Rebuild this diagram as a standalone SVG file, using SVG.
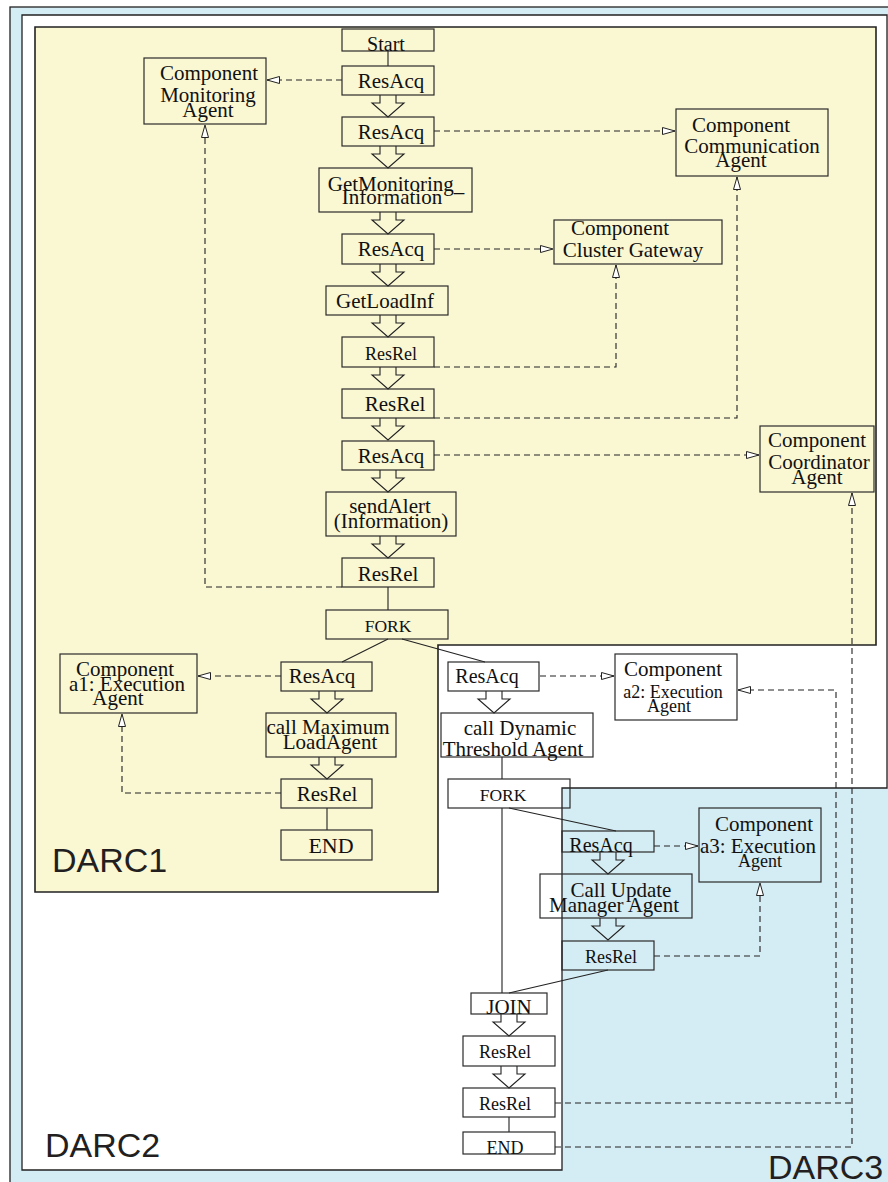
<svg xmlns="http://www.w3.org/2000/svg" width="888" height="1182" viewBox="0 0 888 1182">
<style>
.n{fill:none;stroke:#2a2a2a;stroke-width:1.2}
.t{font-family:"Liberation Serif","Times New Roman",serif;font-size:21px;fill:#111;text-anchor:middle}
.s{font-size:18px}
.f{font-size:17.5px}
.lbl{font-family:"Liberation Sans",Arial,sans-serif;font-size:34px;fill:#231f20}
.ln{fill:none;stroke:#222;stroke-width:1.1}
.d{fill:none;stroke:#222;stroke-width:1.1;stroke-dasharray:6 4}
.ba{fill:none;stroke:#222;stroke-width:1.1}
</style>
<defs>
<marker id="tri" markerUnits="userSpaceOnUse" markerWidth="14" markerHeight="10" refX="13" refY="4" orient="auto">
<path d="M0.5,0.5 L13,4 L0.5,7.5 z" fill="#fff" stroke="#222" stroke-width="1"/>
</marker>
<path id="blk" d="M-8,0 V8 H-16 L0,22 L16,8 H8 V0"/>
</defs>

<g id="frames">
<rect x="10" y="7" width="890" height="1190" fill="#d4ecf3" stroke="#222" stroke-width="1.3"/>
<polygon id="darc2" points="22,15 887,15 887,788 562,788 562,1170 22,1170" fill="#fff" stroke="#222" stroke-width="1.3"/>
<polygon id="darc1" points="35,27 876,27 876,645 438,645 438,892 35,892" fill="#faf7d3" stroke="#222" stroke-width="1.6"/>
<text class="lbl" x="52" y="872">DARC1</text>
<text class="lbl" x="45" y="1157">DARC2</text>
<text class="lbl" x="768" y="1179">DARC3</text>
</g>

<g id="connectors">
<path class="ln" d="M388,51 V66 M388,587 V610 M388,639 L342,662 M402,639 L485,662 M327,808 V830 M502,757 V779 M502,808 V993 M509,808 L616,831 M608,970 L509,993 M509,1117 V1132"/>
<g class="ba">
<use href="#blk" x="388" y="95"/><use href="#blk" x="388" y="146"/><use href="#blk" x="388" y="212"/>
<use href="#blk" x="388" y="264"/><use href="#blk" x="388" y="315"/><use href="#blk" x="388" y="367"/>
<use href="#blk" x="388" y="418"/><use href="#blk" x="388" y="470"/><use href="#blk" x="388" y="536"/>
<use href="#blk" x="327" y="691"/><use href="#blk" x="327" y="757"/><use href="#blk" x="494" y="691"/>
<use href="#blk" x="608" y="852"/><use href="#blk" x="608" y="918"/><use href="#blk" x="509" y="1014"/>
<use href="#blk" x="509" y="1066"/>
</g>
<path class="d" marker-end="url(#tri)" d="M342,80 H267"/>
<path class="d" marker-end="url(#tri)" d="M342,587 H205 V125"/>
<path class="d" marker-end="url(#tri)" d="M434,131 H675"/>
<path class="d" marker-end="url(#tri)" d="M434,249 H553"/>
<path class="d" marker-end="url(#tri)" d="M434,367 H616 V265"/>
<path class="d" marker-end="url(#tri)" d="M434,418 H737 V177"/>
<path class="d" marker-end="url(#tri)" d="M434,455 H759"/>
<path class="d" marker-end="url(#tri)" d="M555,1147 H852 V493"/>
<path class="d" marker-end="url(#tri)" d="M281,676 H198"/>
<path class="d" marker-end="url(#tri)" d="M281,793 H122 V714"/>
<path class="d" marker-end="url(#tri)" d="M540,676 H614"/>
<path class="d" d="M555,1103 H852"/>
<path class="d" marker-end="url(#tri)" d="M836,1098 V690 H738"/>
<path class="d" marker-end="url(#tri)" d="M654,846 H698"/>
<path class="d" marker-end="url(#tri)" d="M654,956 H760 V883"/>
</g>

<g id="start"><rect class="n" x="342" y="29" width="92" height="22"/><text class="t s" x="386" y="51" style="font-size:20px">Start</text></g>
<g id="resacq1"><rect class="n" x="342" y="66" width="92" height="29"/><text class="t" x="391" y="88">ResAcq</text></g>
<g id="resacq2"><rect class="n" x="342" y="117" width="92" height="29"/><text class="t" x="391" y="139">ResAcq</text></g>
<g id="getmon"><rect class="n" x="319" y="168" width="153" height="44"/><text class="t" x="396" y="191">GetMonitoring_</text><text class="t" x="392" y="204">Information</text></g>
<g id="resacq3"><rect class="n" x="342" y="234" width="92" height="30"/><text class="t" x="391" y="256">ResAcq</text></g>
<g id="getload"><rect class="n" x="326" y="286" width="122" height="29"/><text class="t" x="385" y="308">GetLoadInf</text></g>
<g id="resrel1"><rect class="n" x="342" y="337" width="92" height="30"/><text class="t s" x="391" y="360">ResRel</text></g>
<g id="resrel2"><rect class="n" x="342" y="389" width="92" height="29"/><text class="t" x="395" y="411">ResRel</text></g>
<g id="resacq4"><rect class="n" x="342" y="441" width="92" height="29"/><text class="t" x="391" y="463">ResAcq</text></g>
<g id="sendalert"><rect class="n" x="326" y="492" width="130" height="44"/><text class="t" x="390" y="513">sendAlert</text><text class="t" x="391" y="528">(Information)</text></g>
<g id="resrel3"><rect class="n" x="342" y="558" width="92" height="29"/><text class="t" x="388" y="581">ResRel</text></g>
<g id="fork1"><rect class="n" x="326" y="610" width="122" height="29"/><text class="t f" x="388" y="632">FORK</text></g>

<g id="resacq5"><rect class="n" x="281" y="662" width="91" height="29"/><text class="t" x="322" y="683">ResAcq</text></g>
<g id="callmax"><rect class="n" x="266" y="713" width="130" height="44"/><text class="t" x="328" y="734">call Maximum</text><text class="t" x="330" y="749">LoadAgent</text></g>
<g id="resrel4"><rect class="n" x="281" y="779" width="91" height="29"/><text class="t" x="327" y="801">ResRel</text></g>
<g id="end1"><rect class="n" x="281" y="830" width="91" height="30"/><text class="t" x="331" y="853" style="font-size:22px">END</text></g>

<g id="resacq6"><rect class="n" x="448" y="662" width="91" height="29"/><text class="t" x="487" y="683" style="font-size:20px">ResAcq</text></g>
<g id="calldyn"><rect class="n" x="441" y="713" width="152" height="44"/><text class="t" x="520" y="735">call Dynamic</text><text class="t" x="513" y="756">Threshold Agent</text></g>
<g id="fork2"><rect class="n" x="448" y="779" width="122" height="29"/><text class="t f" x="503" y="801">FORK</text></g>
<g id="resacq7"><rect class="n" x="562" y="831" width="92" height="21"/><text class="t" x="601" y="852" style="font-size:20px">ResAcq</text></g>
<g id="callupd"><rect class="n" x="540" y="874" width="152" height="44"/><text class="t" x="621" y="897">Call Update</text><text class="t" x="614" y="912">Manager Agent</text></g>
<g id="resrel5"><rect class="n" x="562" y="941" width="92" height="29"/><text class="t s" x="611" y="963">ResRel</text></g>
<g id="join"><rect class="n" x="471" y="993" width="76" height="21"/><text class="t" x="509" y="1014">JOIN</text></g>
<g id="resrel6"><rect class="n" x="463" y="1036" width="92" height="30"/><text class="t s" x="505" y="1058">ResRel</text></g>
<g id="resrel7"><rect class="n" x="463" y="1088" width="92" height="29"/><text class="t s" x="505" y="1110">ResRel</text></g>
<g id="end2"><rect class="n" x="463" y="1132" width="92" height="22"/><text class="t s" x="505" y="1154">END</text></g>

<g id="monitoring"><rect class="n" x="144" y="58" width="122" height="66"/><text class="t" x="209" y="80">Component</text><text class="t" x="208" y="102">Monitoring</text><text class="t" x="208" y="117">Agent</text></g>
<g id="communication"><rect class="n" x="676" y="109" width="152" height="67"/><text class="t" x="741" y="132">Component</text><text class="t" x="752" y="153">Communication</text><text class="t" x="741" y="167">Agent</text></g>
<g id="cluster"><rect class="n" x="554" y="220" width="168" height="44"/><text class="t" x="620" y="235">Component</text><text class="t" x="633" y="257">Cluster Gateway</text></g>
<g id="coordinator"><rect class="n" x="760" y="426" width="114" height="66"/><text class="t" x="817" y="447">Component</text><text class="t" x="819" y="469">Coordinator</text><text class="t" x="817" y="484">Agent</text></g>
<g id="a1"><rect class="n" x="60" y="654" width="137" height="59"/><text class="t" x="125" y="676">Component</text><text class="t" x="127" y="691">a1: Execution</text><text class="t" x="118" y="705">Agent</text></g>
<g id="a2"><rect class="n" x="615" y="654" width="122" height="66"/><text class="t" x="673" y="676">Component</text><text class="t s" x="673" y="698">a2: Execution</text><text class="t s" x="669" y="712">Agent</text></g>
<g id="a3"><rect class="n" x="699" y="808" width="122" height="74"/><text class="t" x="764" y="831">Component</text><text class="t" x="758" y="853">a3: Execution</text><text class="t s" x="760" y="867">Agent</text></g>
</svg>
